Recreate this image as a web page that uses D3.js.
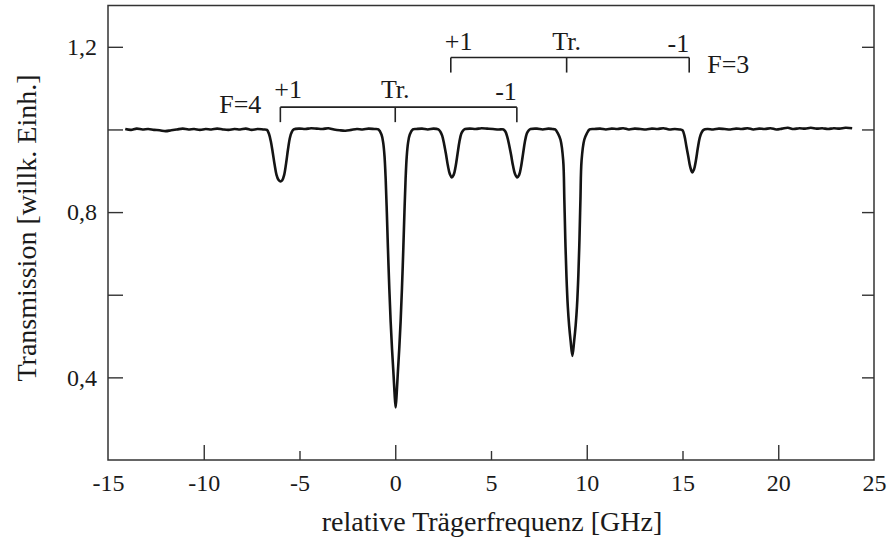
<!DOCTYPE html>
<html>
<head>
<meta charset="utf-8">
<script src="https://cdn.jsdelivr.net/npm/d3@7"></script>
<style>
  html, body { margin: 0; padding: 0; background: #fff; }
  svg { display: block; }
  text { font-family: "Liberation Serif", "DejaVu Serif", serif; fill: #1a1a1a; }
</style>
</head>
<body>
<div id="chart"></div>
<script>
// spectrum: [relative frequency GHz, transmission]
const baselineLeft = [
  [-14.1, 1.001], [-13.8, 0.999], [-13.5, 1.002], [-13.2, 1.0], [-12.9, 1.001], [-12.6, 0.999],
  [-12.3, 0.998], [-12.0, 0.996], [-11.7, 0.998], [-11.4, 1.0], [-11.1, 1.002], [-10.8, 1.0],
  [-10.5, 1.001], [-10.2, 0.999], [-9.9, 1.001], [-9.6, 1.0], [-9.3, 1.002], [-9.0, 1.0],
  [-8.7, 0.999], [-8.4, 1.001], [-8.1, 1.0], [-7.8, 1.002], [-7.5, 0.999], [-7.2, 1.001],
  [-6.9, 1.0]
];
const dipF4plus = [
  [-6.7, 0.999], [-6.6, 0.99], [-6.5, 0.972], [-6.4, 0.945], [-6.3, 0.915], [-6.2, 0.89],
  [-6.1, 0.878], [-6.0, 0.874], [-5.9, 0.877], [-5.8, 0.89], [-5.7, 0.918], [-5.6, 0.952],
  [-5.5, 0.98], [-5.4, 0.994], [-5.3, 1.0]
];
const baselineB = [
  [-5.0, 1.002], [-4.7, 1.001], [-4.4, 1.003], [-4.1, 1.002], [-3.8, 1.001], [-3.5, 1.003],
  [-3.2, 1.0], [-2.9, 0.998], [-2.6, 0.997], [-2.3, 0.999], [-2.0, 1.001], [-1.7, 1.0],
  [-1.4, 1.002], [-1.1, 1.001]
];
const dipF4main = [
  [-0.88, 1.0], [-0.72, 0.988], [-0.63, 0.968], [-0.56, 0.935], [-0.5, 0.88], [-0.44, 0.8],
  [-0.38, 0.71], [-0.31, 0.615], [-0.24, 0.535], [-0.17, 0.47], [-0.1, 0.415], [-0.04, 0.365],
  [0.02, 0.327],
  [0.08, 0.365], [0.14, 0.415], [0.21, 0.47], [0.28, 0.535], [0.35, 0.615], [0.42, 0.71],
  [0.48, 0.8], [0.54, 0.88], [0.6, 0.935], [0.67, 0.968], [0.76, 0.988], [0.92, 1.0]
];
const baselineC = [[1.1, 1.001], [1.4, 1.002], [1.7, 1.0], [2.0, 1.002]];
const dipF3plus = [
  [2.25, 1.0], [2.35, 0.995], [2.45, 0.985], [2.55, 0.965], [2.65, 0.94], [2.75, 0.912],
  [2.85, 0.892], [2.95, 0.884], [3.05, 0.89], [3.15, 0.91], [3.25, 0.94], [3.35, 0.97],
  [3.45, 0.99], [3.55, 0.998], [3.65, 1.001]
];
const baselineD = [[3.9, 1.002], [4.2, 1.001], [4.5, 1.003], [4.8, 1.002], [5.1, 1.001], [5.4, 1.0]];
const dipF4minus = [
  [5.65, 1.0], [5.75, 0.995], [5.85, 0.982], [5.95, 0.962], [6.05, 0.938], [6.15, 0.912],
  [6.25, 0.893], [6.37, 0.884], [6.47, 0.89], [6.57, 0.91], [6.67, 0.94], [6.77, 0.97],
  [6.87, 0.99], [6.97, 0.998], [7.07, 1.001]
];
const baselineE = [[7.4, 1.002], [7.7, 1.0], [8.0, 1.002], [8.2, 1.001]];
const dipF3main = [
  [8.35, 1.0], [8.5, 0.99], [8.63, 0.975], [8.77, 0.925], [8.83, 0.83], [8.88, 0.735],
  [8.94, 0.645], [9.01, 0.572], [9.08, 0.525], [9.16, 0.487], [9.25, 0.452], [9.34, 0.487],
  [9.42, 0.525], [9.49, 0.572], [9.56, 0.645], [9.62, 0.735], [9.67, 0.83], [9.73, 0.925],
  [9.87, 0.975], [10.0, 0.99], [10.15, 1.0]
];
const baselineF = [
  [10.4, 1.001], [10.7, 1.002], [11.0, 1.0], [11.3, 1.002], [11.6, 1.001], [11.9, 1.003],
  [12.2, 1.0], [12.5, 1.002], [12.8, 1.001], [13.1, 1.0], [13.4, 1.002], [13.7, 1.001],
  [14.0, 1.003], [14.3, 1.0], [14.6, 1.001], [14.85, 1.0]
];
const dipF3minus = [
  [15.0, 0.998], [15.1, 0.985], [15.2, 0.96], [15.3, 0.935], [15.4, 0.91], [15.51, 0.896],
  [15.6, 0.903], [15.7, 0.925], [15.8, 0.955], [15.9, 0.98], [16.0, 0.993], [16.1, 0.999]
];
const baselineRight = [
  [16.3, 1.001], [16.6, 1.0], [16.9, 1.002], [17.2, 1.001], [17.5, 1.0], [17.8, 1.002],
  [18.1, 1.001], [18.4, 1.003], [18.7, 1.0], [19.0, 1.002], [19.3, 1.001], [19.6, 1.003],
  [19.9, 1.0], [20.2, 1.002], [20.5, 1.004], [20.8, 1.001], [21.1, 1.003], [21.4, 1.002],
  [21.7, 1.004], [22.0, 1.002], [22.3, 1.003], [22.6, 1.001], [22.9, 1.003], [23.2, 1.002],
  [23.5, 1.004], [23.86, 1.003]
];

// hyperfine brackets: frequencies of +1, Tr., -1
const bracketF4 = [-6.0, 0.0, 6.35];
const bracketF3 = [2.9, 8.95, 15.35];
const bracketLabels = ["+1", "Tr.", "-1"];

const xLabelTicks = [-15, -10, -5, 0, 5, 10, 15, 20, 25];
const xMajorTicks = [-10, 0, 10, 20];
const xMinorTicks = [-5, 5, 15];
const yTicks = [0.4, 0.6, 0.8, 1.0, 1.2];
const yLabelTicks = [0.4, 0.8, 1.2];

const spectrum = [].concat(baselineLeft, dipF4plus, baselineB, dipF4main, baselineC, dipF3plus,
  baselineD, dipF4minus, baselineE, dipF3main, baselineF, dipF3minus, baselineRight);

const width = 887, height = 546;
const plotL = 108, plotR = 874, plotT = 5.5, plotB = 460;

const de = d3.formatLocale({decimal: ",", thousands: ".", grouping: [3], currency: ["", ""], minus: "-"});
const fmtY = de.format(".1f");
const fmtX = de.format("d");

const x = d3.scaleLinear().domain([-15, 25]).range([plotL, plotR]);
const y = d3.scaleLinear().domain([0.2, 1.3]).range([plotB, plotT]);

const svg = d3.select("#chart").append("svg")
  .attr("width", width)
  .attr("height", height)
  .attr("viewBox", [0, 0, width, height]);

// tick labels
svg.append("g")
  .attr("transform", `translate(0,${plotB})`)
  .call(d3.axisBottom(x).tickValues(xLabelTicks).tickSize(0).tickPadding(14).tickFormat(fmtX))
  .call(g => g.select(".domain").remove())
  .call(g => g.selectAll("text").attr("font-size", 24).attr("fill", "#1a1a1a").attr("font-family", "Liberation Serif"));

svg.append("g")
  .attr("transform", `translate(${plotL},0)`)
  .call(d3.axisLeft(y).tickValues(yLabelTicks).tickSize(0).tickPadding(11).tickFormat(fmtY))
  .call(g => g.select(".domain").remove())
  .call(g => g.selectAll("text").attr("font-size", 24).attr("fill", "#1a1a1a").attr("font-family", "Liberation Serif"));

// inward ticks
const tickStyle = g => {
  g.select(".domain").remove();
  g.selectAll("line").attr("stroke", "#333").attr("stroke-width", 1.4);
};
svg.append("g").attr("transform", `translate(0,${plotB})`)
  .call(d3.axisBottom(x).tickValues(xMajorTicks).tickSize(-15).tickFormat(""))
  .call(tickStyle);
svg.append("g").attr("transform", `translate(0,${plotB})`)
  .call(d3.axisBottom(x).tickValues(xMinorTicks).tickSize(-9).tickFormat(""))
  .call(tickStyle);
svg.append("g").attr("transform", `translate(${plotL},0)`)
  .call(d3.axisLeft(y).tickValues(yTicks).tickSize(-15).tickFormat(""))
  .call(tickStyle);
svg.append("g").attr("transform", `translate(${plotR},0)`)
  .call(d3.axisRight(y).tickValues(yTicks).tickSize(-12).tickFormat(""))
  .call(tickStyle);

// frame
svg.append("rect")
  .attr("x", plotL).attr("y", plotT)
  .attr("width", plotR - plotL).attr("height", plotB - plotT)
  .attr("fill", "none")
  .attr("stroke", "#333")
  .attr("stroke-width", 1.5);

// spectrum trace
const line = d3.line()
  .x(d => x(d[0]))
  .y(d => y(d[1]))
  .curve(d3.curveCatmullRom.alpha(0.5));

svg.append("path")
  .datum(spectrum)
  .attr("fill", "none")
  .attr("stroke", "#141414")
  .attr("stroke-width", 2.6)
  .attr("stroke-linejoin", "round")
  .attr("d", line);

// brackets
function bracket(freqs, level, drop, labelY, name, nameX, nameY, nameAnchor) {
  const g = svg.append("g").attr("stroke", "#222").attr("stroke-width", 1.6).attr("fill", "none");
  const yTop = y(level);
  g.append("line")
    .attr("x1", x(freqs[0])).attr("x2", x(freqs[2]))
    .attr("y1", yTop).attr("y2", yTop);
  g.selectAll("line.leg")
    .data(freqs)
    .join("line")
      .attr("class", "leg")
      .attr("x1", d => x(d)).attr("x2", d => x(d))
      .attr("y1", yTop).attr("y2", yTop + drop);
  svg.append("g")
    .selectAll("text")
    .data(freqs)
    .join("text")
      .attr("x", (d, i) => x(d) + (i === 0 ? -6 : 0))
      .attr("y", (d, i) => labelY + (i === 2 ? 2 : 0))
      .attr("text-anchor", (d, i) => ["start", "middle", "end"][i])
      .attr("font-size", 26)
      .text((d, i) => bracketLabels[i]);
  svg.append("text")
    .attr("x", nameX).attr("y", nameY)
    .attr("text-anchor", nameAnchor)
    .attr("font-size", 26)
    .text(name);
}
bracket(bracketF4, 1.054, 15, 98, "F=4", x(bracketF4[0]) - 19, 113, "end");
bracket(bracketF3, 1.174, 15, 50, "F=3", x(bracketF3[2]) + 18, 73, "start");

// axis titles
svg.append("text")
  .attr("x", 492)
  .attr("y", 531)
  .attr("text-anchor", "middle")
  .attr("font-size", 28)
  .text("relative Trägerfrequenz [GHz]");

svg.append("text")
  .attr("transform", `translate(36,228) rotate(-90)`)
  .attr("text-anchor", "middle")
  .attr("font-size", 28)
  .text("Transmission [willk. Einh.]");
</script>
</body>
</html>
